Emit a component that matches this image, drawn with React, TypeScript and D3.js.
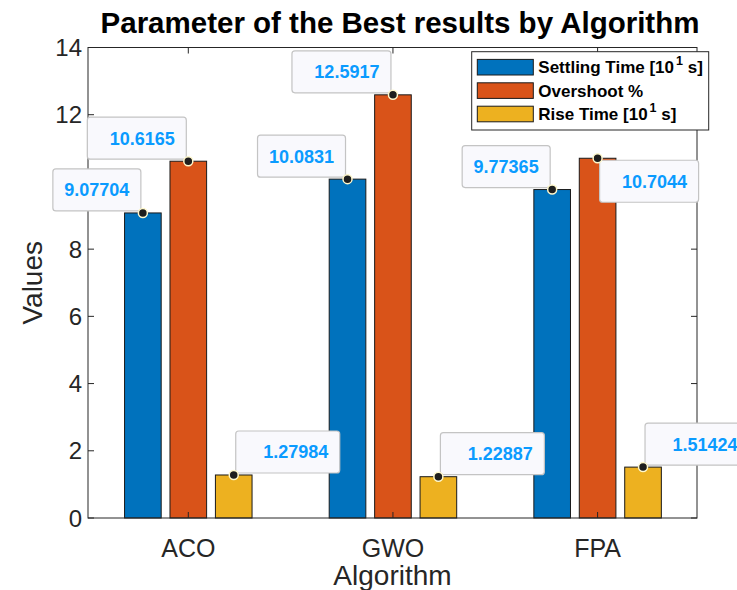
import React, { useRef, useEffect } from 'react';
import * as d3 from 'd3';

// chart values
const algorithms = ['ACO', 'GWO', 'FPA'];
const seriesNames = ['Settling Time [10', 'Overshoot %', 'Rise Time [10'];
const settlingTime = [9.07704, 10.0831, 9.77365];
const overshoot = [10.6165, 12.5917, 10.7044];
const riseTime = [1.27984, 1.22887, 1.51424];
const yTicks = [0, 2, 4, 6, 8, 10, 12, 14];

const colors = ['#0072BD', '#D95319', '#EDB120'];
// placement of the data tips (ul = above-left, ur = above-right, lr = below-right)
const tipDir = [
    ['ul', 'ul', 'ur'],
    ['ul', 'ul', 'ur'],
    ['ul', 'lr', 'ur'],
];
const tipWidth = [88, 99, 104];

const App = () => {
    const svgRef = useRef<SVGSVGElement>(null);

    useEffect(() => {
        if (!svgRef.current) return;
        const svg = d3.select(svgRef.current);
        svg.selectAll('*').remove();

        const font = '"Liberation Sans", Arial, Helvetica, sans-serif';
        const axisColor = '#262626';
        const left = 88, right = 697, top = 47.5, bottom = 518;

        const x = d3.scaleLinear().domain([1, 3]).range([188.3, 597.6]);
        const y = d3.scaleLinear().domain([0, 14]).range([bottom, top]);

        const series = [settlingTime, overshoot, riseTime];
        const offset = 0.222;
        const barW = 0.179;

        // bars
        series.forEach((vals, s) => {
            svg.append('g')
                .selectAll('rect')
                .data(vals)
                .enter()
                .append('rect')
                .attr('x', (d, i) => x(i + 1 + (s - 1) * offset - barW / 2))
                .attr('width', x(1 + barW) - x(1))
                .attr('y', d => y(d))
                .attr('height', d => y(0) - y(d))
                .attr('fill', colors[s])
                .attr('stroke', '#1a1a1a')
                .attr('stroke-width', 1);
        });

        // axes frame and ticks
        const ax = svg.append('g').attr('stroke', axisColor).attr('stroke-width', 1).attr('fill', 'none');
        ax.append('rect')
            .attr('x', left).attr('y', top)
            .attr('width', right - left).attr('height', bottom - top);
        const tl = 6;
        yTicks.forEach(t => {
            ax.append('line').attr('x1', left).attr('x2', left + tl).attr('y1', y(t)).attr('y2', y(t));
            ax.append('line').attr('x1', right).attr('x2', right - tl).attr('y1', y(t)).attr('y2', y(t));
        });
        algorithms.forEach((a, i) => {
            ax.append('line').attr('x1', x(i + 1)).attr('x2', x(i + 1)).attr('y1', bottom).attr('y2', bottom - tl);
            ax.append('line').attr('x1', x(i + 1)).attr('x2', x(i + 1)).attr('y1', top).attr('y2', top + tl);
        });

        // tick labels
        svg.append('g')
            .selectAll('text')
            .data(yTicks)
            .enter()
            .append('text')
            .attr('x', left - 6)
            .attr('y', d => y(d))
            .attr('dy', '0.36em')
            .attr('text-anchor', 'end')
            .style('font-family', font)
            .style('font-size', '24px')
            .attr('fill', axisColor)
            .text(d => d);

        svg.append('g')
            .selectAll('text')
            .data(algorithms)
            .enter()
            .append('text')
            .attr('x', (d, i) => x(i + 1))
            .attr('y', 557)
            .attr('text-anchor', 'middle')
            .style('font-family', font)
            .style('font-size', '25px')
            .attr('fill', axisColor)
            .text(d => d);

        // axis labels
        svg.append('text')
            .attr('x', (left + right) / 2)
            .attr('y', 585)
            .attr('text-anchor', 'middle')
            .style('font-family', font)
            .style('font-size', '28px')
            .attr('fill', axisColor)
            .text('Algorithm');

        svg.append('text')
            .attr('transform', `translate(42, ${(top + bottom) / 2}) rotate(-90)`)
            .attr('text-anchor', 'middle')
            .style('font-family', font)
            .style('font-size', '28px')
            .attr('fill', axisColor)
            .text('Values');

        // title
        svg.append('text')
            .attr('x', 400)
            .attr('y', 33)
            .attr('text-anchor', 'middle')
            .style('font-family', font)
            .style('font-size', '29.5px')
            .style('font-weight', 'bold')
            .attr('fill', '#000')
            .text('Parameter of the Best results by Algorithm');

        // legend
        const lg = svg.append('g').attr('transform', 'translate(471.7, 51.7)');
        lg.append('rect')
            .attr('width', 237).attr('height', 78.3)
            .attr('fill', '#fff').attr('stroke', axisColor).attr('stroke-width', 1);
        seriesNames.forEach((name, s) => {
            const cy = 15.5 + s * 23.4;
            lg.append('rect')
                .attr('x', 5.6).attr('y', cy - 7.8)
                .attr('width', 56).attr('height', 15.6)
                .attr('fill', colors[s]).attr('stroke', '#1a1a1a').attr('stroke-width', 1);
            const t = lg.append('text')
                .attr('x', 66.6).attr('y', cy + 6)
                .style('font-family', font)
                .style('font-size', '17px')
                .style('font-weight', 'bold')
                .attr('fill', '#000');
            t.append('tspan').text(name);
            if (name.endsWith('[10')) {
                t.append('tspan').attr('dx', 2).attr('dy', -8).style('font-size', '12.5px').text('1');
                t.append('tspan').attr('dy', 8).text(' s]');
            }
        });

        // data tips
        const tips = svg.append('g');
        series.forEach((vals, s) => {
            vals.forEach((v, i) => {
                const px = x(i + 1 + (s - 1) * offset);
                const py = y(v);
                const w = tipWidth[s];
                const h = 42;
                const dir = tipDir[i][s];
                const bx = dir === 'ul' ? px - 2 - w : px + 2;
                const by = dir === 'lr' ? py + 2 : py - 2 - h;
                tips.append('rect')
                    .attr('x', bx).attr('y', by)
                    .attr('width', w).attr('height', h)
                    .attr('rx', 3)
                    .attr('fill', '#f9f9fd')
                    .attr('stroke', '#c4c4c4')
                    .attr('stroke-width', 1.2);
                tips.append('text')
                    .attr('x', bx + w - 11.5)
                    .attr('y', by + h / 2)
                    .attr('dy', '0.36em')
                    .attr('text-anchor', 'end')
                    .style('font-family', font)
                    .style('font-size', '18px')
                    .style('font-weight', 'bold')
                    .attr('fill', '#0a9bff')
                    .text(v);
                tips.append('circle')
                    .attr('cx', px).attr('cy', py).attr('r', 4.5)
                    .attr('fill', '#1e1e1e')
                    .attr('stroke', '#fff8cc')
                    .attr('stroke-width', 1.5);
            });
        });
    }, []);

    return (
        <svg
            ref={svgRef}
            width={737}
            height={590}
            style={{ position: 'absolute', left: 0, top: 0, background: '#fff' }}
        ></svg>
    );
};

export default App;
